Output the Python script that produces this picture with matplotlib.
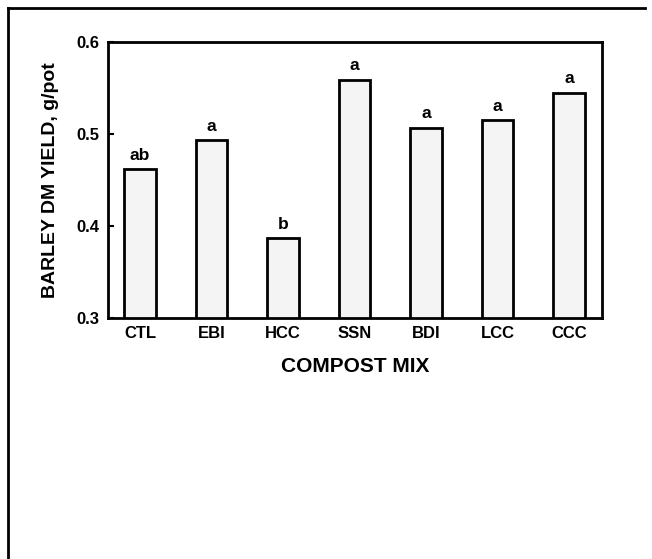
import matplotlib
matplotlib.use("Agg")
import matplotlib.pyplot as plt
from matplotlib.lines import Line2D

categories = ["CTL", "EBI", "HCC", "SSN", "BDI", "LCC", "CCC"]
yields = [0.462, 0.493, 0.387, 0.559, 0.507, 0.515, 0.545]
letters = ["ab", "a", "b", "a", "a", "a", "a"]
yticks = [0.3, 0.4, 0.5, 0.6]

plt.rcParams['font.family'] = ['Liberation Sans', 'DejaVu Sans']
plt.rcParams['font.weight'] = 'bold'

fig = plt.figure(figsize=(6.52, 5.59), dpi=100)
ax = fig.add_axes([0.1656, 0.4311, 0.7574, 0.4938])

x = list(range(len(categories)))
ax.bar(x, yields, width=0.44, bottom=0, color='#f4f4f4', edgecolor='black', linewidth=2.0)
for xi, v, l in zip(x, yields, letters):
    ax.text(xi, v + 0.007, l, ha='center', va='bottom', fontsize=12.5, fontweight='bold')

ax.set_xlim(-0.45, 6.46)
ax.set_ylim(0.3, 0.6)
ax.set_yticks(yticks)
ax.set_yticklabels([f"{t:.1f}" for t in yticks], fontsize=12, fontweight='bold')
ax.set_xticks(x)
ax.set_xticklabels(categories, fontsize=12, fontweight='bold')
ax.tick_params(axis='y', direction='in', length=4, width=1.5, pad=6)
ax.tick_params(axis='x', length=0, pad=6)
for s in ax.spines.values():
    s.set_linewidth(2.0)

ax.set_xlabel("COMPOST MIX", fontsize=15, fontweight='bold', labelpad=11)
ax.set_ylabel("BARLEY DM YIELD, g/pot", fontsize=14, fontweight='bold', labelpad=13)

# outer frame (left and top edges)
fig.add_artist(Line2D([8/652, 8/652], [0, 1 - 8/559], transform=fig.transFigure, color='black', linewidth=2))
fig.add_artist(Line2D([8/652, 645/652], [1 - 8/559, 1 - 8/559], transform=fig.transFigure, color='black', linewidth=2))

fig.savefig("out.png", dpi=100)
